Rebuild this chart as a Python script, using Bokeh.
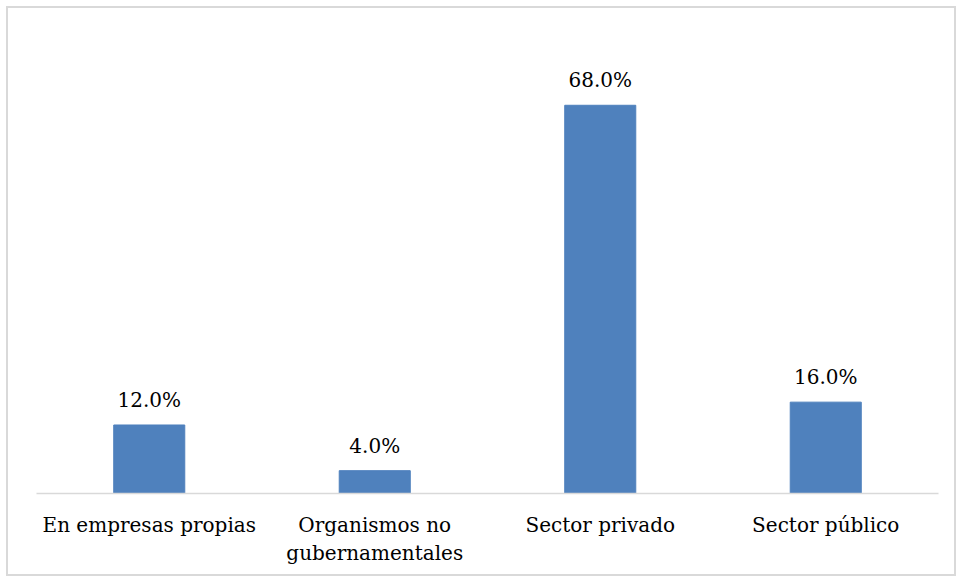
from bokeh.plotting import figure
from bokeh.models import ColumnDataSource, LabelSet, Range1d
from bokeh.core.properties import value
from bokeh.embed import file_html
from bokeh.resources import INLINE

categories = ["En empresas propias", "Organismos no\ngubernamentales", "Sector privado", "Sector público"]
values = [12.0, 4.0, 68.0, 16.0]

FONT = "DejaVu Serif"

source = ColumnDataSource(data=dict(
    cat=categories,
    val=values,
    lbl=[f"{v:.1f}%" for v in values],
))

p = figure(x_range=categories, y_range=Range1d(0, 83.2), width=950, height=570,
           output_backend="svg", toolbar_location=None,
           min_border_left=28, min_border_right=20, min_border_top=10, min_border_bottom=85)
p.styles = {"border": "2px solid #d9d9d9", "box-sizing": "border-box", "margin": "6px 0 0 6px"}

p.vbar(x="cat", top="val", width=0.315, source=source, color="#4F81BD")

labels = LabelSet(x="cat", y="val", text="lbl", source=source, text_align="center",
                  text_baseline="bottom", y_offset=13, text_font=value(FONT),
                  text_font_size="20px", text_color="#000000")
p.add_layout(labels)

p.yaxis.visible = False
p.xgrid.grid_line_color = None
p.ygrid.grid_line_color = None
p.outline_line_color = None
p.x_range.range_padding = 0
p.xaxis.axis_line_color = "#d9d9d9"
p.xaxis.axis_line_width = 1.5
p.xaxis.major_tick_line_color = None
p.xaxis.minor_tick_line_color = None
p.xaxis.major_label_standoff = 13
p.xaxis.major_label_text_font = FONT
p.xaxis.major_label_text_font_size = "20px"
p.xaxis.major_label_text_color = "#000000"

open("out.html", "w").write(file_html(p, INLINE))
